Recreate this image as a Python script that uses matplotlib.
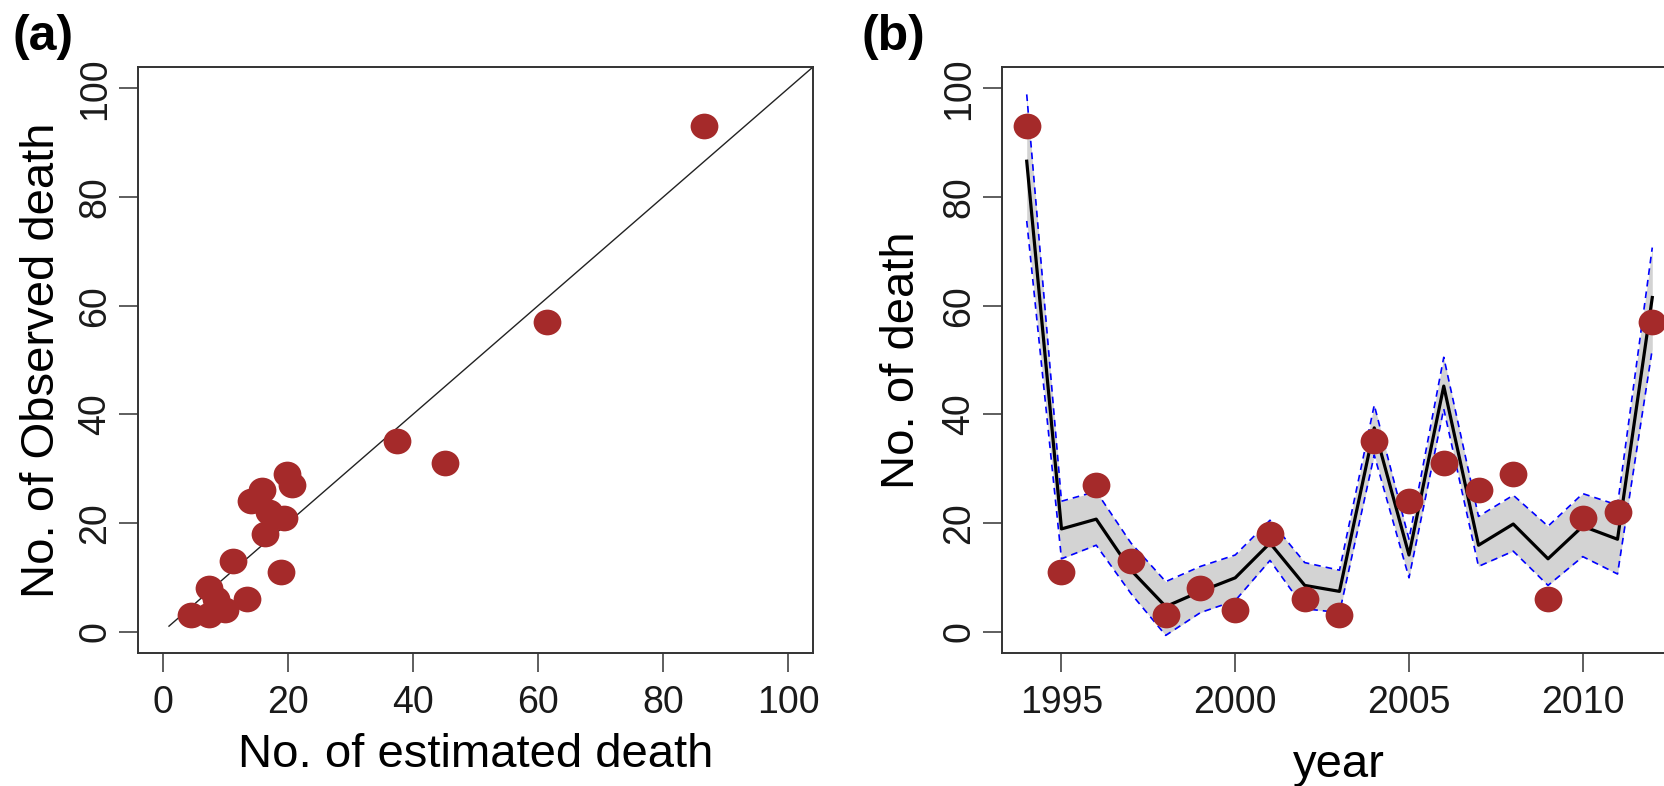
import matplotlib
matplotlib.use("Agg")
from matplotlib import pyplot as plt
from matplotlib.path import Path
import matplotlib.transforms as mtrans

plt.rcParams['font.family'] = ['Liberation Sans', 'DejaVu Sans']

# data
years = list(range(1994, 2013))
observed = [93, 11, 27, 13, 3, 8, 4, 18, 6, 3, 35, 24, 31, 26, 29, 6, 21, 22, 57]
estimated = [86.6, 18.9, 20.7, 11.3, 4.6, 7.4, 9.9, 16.3, 8.5, 7.4,
             37.5, 14.1, 45.2, 15.9, 19.8, 13.4, 19.4, 17.0, 61.5]
upper = [98.9, 24.0, 25.8, 16.3, 9.2, 12.0, 14.1, 20.5, 12.7, 11.3,
         41.7, 17.0, 50.5, 21.2, 25.1, 19.4, 25.4, 23.3, 70.7]
lower = [75.6, 13.4, 15.9, 7.0, -0.7, 3.5, 5.7, 13.1, 4.2, 3.5,
         32.5, 9.9, 41.0, 12.0, 14.8, 8.5, 13.8, 10.6, 52.0]

xticks_a = [0, 20, 40, 60, 80, 100]
yticks = [0, 20, 40, 60, 80, 100]
xticks_b = [1995, 2000, 2005, 2010]

W, H = 1665, 786
fig = plt.figure(figsize=(W / 100, H / 100), dpi=100)

dot_col = '#a52a2a'
axis_col = '#333333'
# the source picture is a little stretched sideways, so are the dots
dot = Path.unit_circle().transformed(mtrans.Affine2D().scale(1.08, 1.0))


def style(ax):
    for s in ax.spines.values():
        s.set_linewidth(1.4)
        s.set_color(axis_col)
    ax.tick_params(axis='both', length=13.5, width=1.1, color=axis_col,
                   labelsize=27, labelcolor='#1a1a1a')
    ax.tick_params(axis='x', pad=9)
    ax.tick_params(axis='y', pad=4, labelrotation=90)
    for lab in ax.get_yticklabels():
        lab.set_va('center')


# box positions in pixels: left, top, width, height
ax1 = fig.add_axes([137.7 / W, 1 - 653.3 / H, 675.6 / W, 586.6 / H])
ax2 = fig.add_axes([1001.7 / W, 1 - 653.3 / H, 675.6 / W, 586.6 / H])

# (a) observed vs estimated
ax1.plot([1, 110], [1, 110], color='#222222', lw=1.0, zorder=2)
ax1.plot(estimated, observed, ls='none', marker=dot, color=dot_col, ms=20,
         mec='none', zorder=3)
ax1.set_xlim(-4, 104)
ax1.set_ylim(-4, 104)
ax1.set_xticks(xticks_a)
ax1.set_yticks(yticks)
style(ax1)

# (b) time series with band
ax2.fill_between(years, lower, upper, color='#d3d3d3', lw=0, zorder=1)
ax2.plot(years, upper, color='#0000ff', lw=1.2, ls=(0, (4, 3)), zorder=2)
ax2.plot(years, lower, color='#0000ff', lw=1.2, ls=(0, (4, 3)), zorder=2)
ax2.plot(years, estimated, color='black', lw=2.3, zorder=3)
ax2.plot(years, observed, ls='none', marker=dot, color=dot_col, ms=20,
         mec='none', zorder=4)
ax2.set_xlim(1993.28, 2012.72)
ax2.set_ylim(-4, 104)
ax2.set_xticks(xticks_b)
ax2.set_yticks(yticks)
style(ax2)

# axis labels and panel tags
fig.text(475.5 / W, 1 - 767 / H, 'No. of estimated death', fontsize=34,
         ha='center', va='baseline')
fig.text(42 / W, 1 - 360 / H, 'No. of Observed death', fontsize=34,
         ha='center', va='center', rotation=90)
fig.text(1339 / W, 1 - 777 / H, 'year', fontsize=34,
         ha='center', va='baseline')
fig.text(902 / W, 1 - 360 / H, 'No. of death', fontsize=34,
         ha='center', va='center', rotation=90)
fig.text(13 / W, 1 - 37 / H, '(a)', fontsize=36, fontweight='bold',
         ha='left', va='center')
fig.text(862 / W, 1 - 37 / H, '(b)', fontsize=36, fontweight='bold',
         ha='left', va='center')

fig.savefig('out.png', dpi=100)
